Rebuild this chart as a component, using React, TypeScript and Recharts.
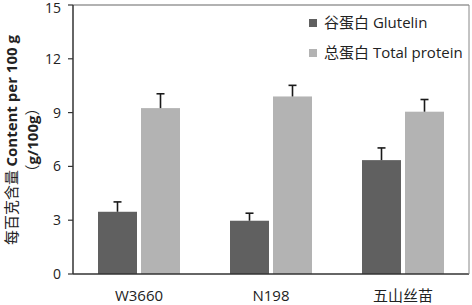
import React from 'react';
import { BarChart, Bar, XAxis, YAxis, Legend } from 'recharts';

const categories = ['W3660', 'N198', '五山丝苗'];
const glutelin = [3.47, 2.97, 6.35];
const glutelinErr = [0.55, 0.42, 0.68];
const totalProtein = [9.25, 9.9, 9.05];
const totalErr = [0.8, 0.62, 0.68];
const yTicks = [0, 3, 6, 9, 12, 15];
const seriesNames = ['谷蛋白 Glutelin', '总蛋白 Total protein'];

const data = categories.map((c, i) => ({
  name: c,
  glutelin: glutelin[i],
  glutelinErr: glutelinErr[i],
  total: totalProtein[i],
  totalErr: totalErr[i],
}));

const makeShape = (valueKey: string, errKey: string, fill: string) => (props: any) => {
  const { x, y, width, height, payload } = props;
  const v = payload[valueKey];
  const e = payload[errKey];
  const pxPerUnit = height / v;
  const eh = e * pxPerUnit;
  const cx = x + width / 2;
  return (
    <g>
      <rect x={x} y={y} width={width} height={height} fill={fill} />
      <line x1={cx} y1={y} x2={cx} y2={y - eh} stroke="#1a1a1a" strokeWidth={1.6} />
      <line x1={cx - 4} y1={y - eh} x2={cx + 4} y2={y - eh} stroke="#1a1a1a" strokeWidth={1.6} />
    </g>
  );
};

const renderLegend = (props: any) => {
  const payload = [...(props.payload || [])].sort(
    (a: any, b: any) => seriesNames.indexOf(a.value) - seriesNames.indexOf(b.value));
  return (
    <div>
      {payload.map((p: any, i: number) => (
        <div key={i} style={{ display: 'flex', alignItems: 'center', height: 30 }}>
          <span style={{ width: 8, height: 8, background: p.color, display: 'inline-block', marginRight: 7, marginTop: 3 }} />
          <span style={{ fontFamily: '"Open Sans", "Noto Sans CJK SC", sans-serif', fontSize: 15, color: '#222', whiteSpace: 'nowrap' }}>{p.value}</span>
        </div>
      ))}
    </div>
  );
};

const XTick = (props: any) => {
  const { x, y, payload } = props;
  return (
    <text x={x} y={y + 19} textAnchor="middle" fontSize={15}
      fontFamily='"Open Sans", "Noto Sans CJK SC", sans-serif' fill="#222">
      {payload.value}
    </text>
  );
};

export default function App() {
  return (
    <div style={{ position: 'absolute', left: 0, top: 0, width: 472, height: 305 }}>
      <BarChart width={472} height={305} data={data}
        margin={{ top: 4, right: 2, left: 0, bottom: 0 }}
        barGap={4} barSize={39}>
        <XAxis dataKey="name" height={31} tickLine={false}
          axisLine={{ stroke: '#333', strokeWidth: 1.5 }} tick={<XTick />} />
        <XAxis xAxisId="top" orientation="top" dataKey="name" height={1} tick={false} tickLine={false}
          axisLine={{ stroke: '#666', strokeWidth: 1.2 }} />
        <YAxis width={73} domain={[0, 15]} ticks={yTicks} tickSize={5}
          axisLine={{ stroke: '#333', strokeWidth: 1.5 }} tickLine={{ stroke: '#333', strokeWidth: 1.2 }}
          tick={{ fontSize: 14, fill: '#222', fontFamily: '"Open Sans", sans-serif' }} tickMargin={7} />
        <YAxis yAxisId="right" orientation="right" width={1} domain={[0, 15]} tick={false} tickLine={false}
          axisLine={{ stroke: '#888', strokeWidth: 1 }} />
        <Legend content={renderLegend} layout="horizontal" verticalAlign="middle" align="center"
          wrapperStyle={{ top: 6, left: 309, width: 162 }} />
        <Bar dataKey="glutelin" name={seriesNames[0]} fill="#606060" isAnimationActive={false}
          shape={makeShape('glutelin', 'glutelinErr', '#606060')} />
        <Bar dataKey="total" name={seriesNames[1]} fill="#b3b3b3" isAnimationActive={false}
          shape={makeShape('total', 'totalErr', '#b3b3b3')} />
        <text transform="translate(17,140) rotate(-90)" textAnchor="middle" fontSize={15} fill="#222">
          <tspan fontFamily='"Noto Sans CJK SC", serif'>每百克含量 </tspan>
          <tspan fontFamily='"Open Sans", sans-serif' fontWeight="bold">Content per 100 g</tspan>
        </text>
        <text transform="translate(38,140) rotate(-90)" textAnchor="middle" fontSize={15} fill="#222">
          <tspan fontFamily='"Noto Sans CJK SC", serif'>（</tspan>
          <tspan fontFamily='"Open Sans", sans-serif' fontWeight="bold">g/100g</tspan>
          <tspan fontFamily='"Noto Sans CJK SC", serif'>）</tspan>
        </text>
      </BarChart>
    </div>
  );
}
